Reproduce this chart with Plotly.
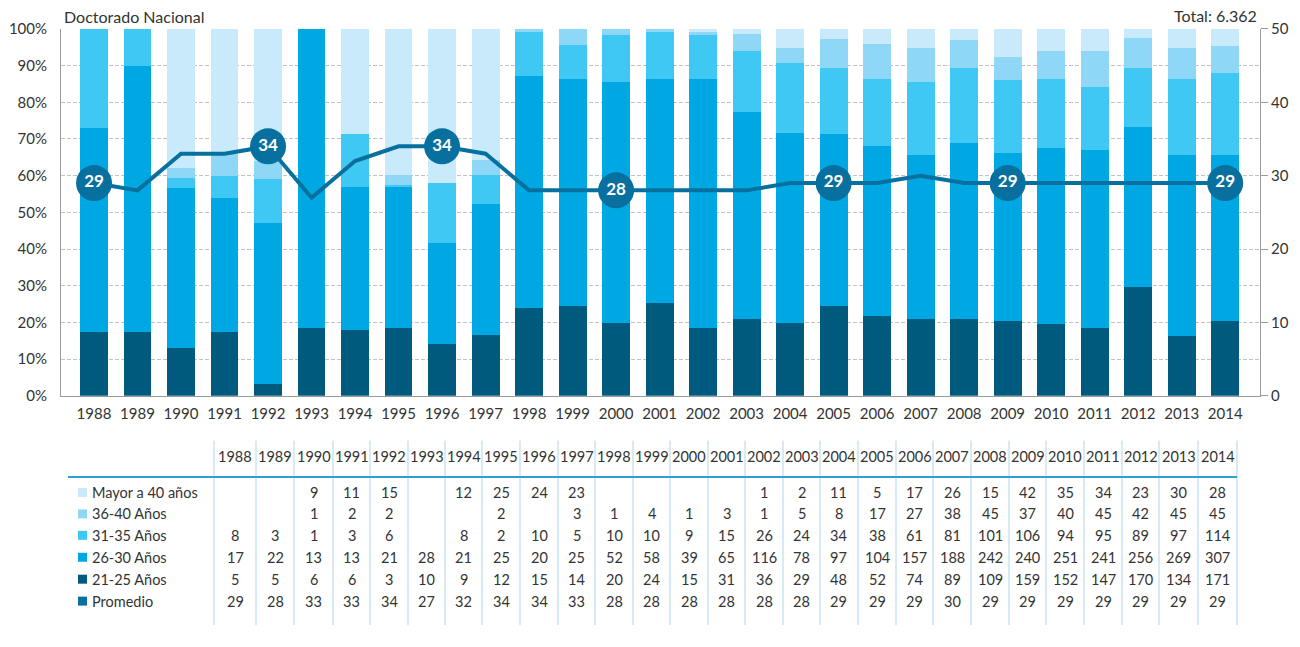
import plotly.graph_objects as go

W, H = 1300, 647
Y_OFF = 8       # observed vertical offset of the page capture
Y_SPAN = 631    # observed vertical span of the figure in the capture
FONT = "Lato"
TXT = "#333333"

years = list(range(1988, 2015))

# Bar segment shares (%) as drawn in the chart
pct_21_25 = [17.5, 17.5, 13.1, 17.5, 3.2, 18.6, 18.0, 18.6, 14.2, 16.7, 23.9, 24.5, 19.9, 25.2,
             18.6, 20.9, 19.9, 24.4, 21.7, 20.9, 20.9, 20.3, 19.5, 18.6, 29.8, 16.4, 20.3]
pct_26_30 = [55.6, 72.5, 43.5, 36.3, 43.8, 81.4, 39.0, 38.4, 27.6, 35.6, 63.4, 61.9, 65.7, 61.2,
             67.8, 56.6, 51.8, 46.9, 46.5, 44.8, 48.0, 45.9, 48.0, 48.3, 43.6, 49.3, 45.4]
pct_31_35 = [26.9, 10.0, 2.9, 6.2, 12.1, 0, 14.3, 0.5, 16.3, 7.8, 11.8, 9.3, 12.9, 12.8,
             12.1, 16.6, 19.1, 18.0, 18.2, 19.9, 20.4, 19.9, 18.9, 17.2, 15.9, 20.7, 22.4]
pct_36_40 = [0, 0, 2.7, 5.9, 4.8, 0, 0, 2.6, 0, 4.1, 0.9, 4.3, 1.5, 0.8,
             0.7, 4.6, 3.9, 8.1, 9.5, 9.1, 7.8, 6.4, 7.7, 10.0, 8.3, 8.3, 7.4]
pct_40plus = [0, 0, 37.8, 34.1, 36.1, 0, 28.7, 39.9, 41.9, 35.8, 0, 0, 0, 0,
              0.8, 1.3, 5.3, 2.6, 4.1, 5.3, 2.9, 7.5, 5.9, 5.9, 2.4, 5.3, 4.5]

promedio = [29, 28, 33, 33, 34, 27, 32, 34, 34, 33, 28, 28, 28, 28, 28, 28, 29, 29, 29, 30,
            29, 29, 29, 29, 29, 29, 29]
label_years = [1988, 1992, 1996, 2000, 2005, 2009, 2014]

# Table counts
n_40plus = [None, None, 9, 11, 15, None, 12, 25, 24, 23, None, None, None, None, 1, 2, 11, 5,
            17, 26, 15, 42, 35, 34, 23, 30, 28]
n_36_40 = [None, None, 1, 2, 2, None, None, 2, None, 3, 1, 4, 1, 3, 1, 5, 8, 17, 27, 38, 45,
           37, 40, 45, 42, 45, 45]
n_31_35 = [8, 3, 1, 3, 6, None, 8, 2, 10, 5, 10, 10, 9, 15, 26, 24, 34, 38, 61, 81, 101, 106,
           94, 95, 89, 97, 114]
n_26_30 = [17, 22, 13, 13, 21, 28, 21, 25, 20, 25, 52, 58, 39, 65, 116, 78, 97, 104, 157, 188,
           242, 240, 251, 241, 256, 269, 307]
n_21_25 = [5, 5, 6, 6, 3, 10, 9, 12, 15, 14, 20, 24, 15, 31, 36, 29, 48, 52, 74, 89, 109, 159,
           152, 147, 170, 134, 171]

y_ticks_left = [0, 10, 20, 30, 40, 50, 60, 70, 80, 90, 100]
y_ticks_right = [0, 10, 20, 30, 40, 50]

title_text = "Doctorado Nacional"
total_text = "Total: 6.362"

C_21 = "#005a7d"
C_26 = "#00a8e3"
C_31 = "#40c8f4"
C_36 = "#8fd7f6"
C_40 = "#c8eafb"
C_PROM = "#08709e"


def px_x(p):
    return p / W


def px_y(p):
    return 1 - (p - Y_OFF) / Y_SPAN


fig = go.Figure()

series = [
    ("21-25 Años", pct_21_25, C_21),
    ("26-30 Años", pct_26_30, C_26),
    ("31-35 Años", pct_31_35, C_31),
    ("36-40 Años", pct_36_40, C_36),
    ("Mayor a 40 años", pct_40plus, C_40),
]
for name, vals, col in series:
    fig.add_trace(go.Bar(x=years, y=vals, name=name, marker=dict(color=col, line=dict(width=0)),
                         width=0.64, showlegend=False))

fig.add_trace(go.Scatter(x=years, y=promedio, yaxis="y2", mode="lines",
                         line=dict(color=C_PROM, width=4), showlegend=False))

lx = [y for y in years if y in label_years]
ly = [promedio[years.index(y)] for y in lx]
fig.add_trace(go.Scatter(x=lx, y=ly, yaxis="y2", mode="markers+text",
                         marker=dict(size=36, color=C_PROM),
                         text=[str(v) for v in ly], textposition="middle center",
                         textfont=dict(family=FONT, size=17, color="white", weight="bold"),
                         showlegend=False))

xdom = [px_x(61), px_x(1260)]
ydom = [px_y(395), px_y(27)]

fig.update_layout(
    width=W, height=H, margin=dict(l=0, r=0, t=0, b=0),
    paper_bgcolor="white", plot_bgcolor="white",
    barmode="stack", bargap=0,
    font=dict(family=FONT, size=15, color=TXT),
    xaxis=dict(domain=xdom, range=[1988 - 0.759, 2014 + 0.80], tickvals=years,
               ticktext=[str(y) for y in years], showgrid=False, showline=True,
               linecolor="#9a9a9a", linewidth=1, ticks="", ticklabelstandoff=4,
               tickfont=dict(family=FONT, size=15, color=TXT), zeroline=False),
    yaxis=dict(domain=ydom, range=[0, 100], tickvals=y_ticks_left,
               ticktext=[f"{v}%" for v in y_ticks_left], showgrid=True,
               gridcolor="#c2c2c2", griddash="4px,2px", gridwidth=1, showline=True,
               linecolor="#9a9a9a", linewidth=1, ticks="", ticklabelstandoff=10,
               tickfont=dict(family=FONT, size=15, color=TXT), zeroline=False),
    yaxis2=dict(overlaying="y", side="right", range=[0, 50], tickvals=y_ticks_right,
                showgrid=False, showline=True, linecolor="#9a9a9a", linewidth=1,
                ticks="outside", ticklen=7, tickcolor="#9a9a9a",
                tickfont=dict(family=FONT, size=15, color=TXT), zeroline=False),
)

ann = []
ann.append(dict(text=title_text, x=px_x(62), y=px_y(15), xref="paper", yref="paper",
                xanchor="left", yanchor="middle", showarrow=False,
                font=dict(family=FONT, size=16, color=TXT)))
ann.append(dict(text=total_text, x=px_x(1259), y=px_y(14), xref="paper", yref="paper",
                xanchor="right", yanchor="middle", showarrow=False,
                font=dict(family=FONT, size=16, color=TXT)))

# Table layout
col_edges = [214, 256, 294, 333, 370, 408, 445, 482, 520, 558, 595, 633, 670, 708, 745, 783,
             820, 858, 896, 933, 971, 1009, 1046, 1084, 1122, 1159, 1198, 1237]
col_centers = [(col_edges[i] + col_edges[i + 1]) / 2 for i in range(len(years))]
header_y = 456
row_ys = [492, 513.5, 535, 557, 579, 601]

shapes = []
for e in col_edges:
    shapes.append(dict(type="line", xref="paper", yref="paper", x0=px_x(e), x1=px_x(e),
                       y0=px_y(440), y1=px_y(625), line=dict(color="#aed6ef", width=1)))
shapes.append(dict(type="line", xref="paper", yref="paper", x0=px_x(68), x1=px_x(1237),
                   y0=px_y(476.5), y1=px_y(476.5), line=dict(color="#2f9cd2", width=2)))

for i, yr in enumerate(years):
    ann.append(dict(text=str(yr), x=px_x(col_centers[i]), y=px_y(header_y), xref="paper",
                    yref="paper", xanchor="center", yanchor="middle", showarrow=False,
                    font=dict(family=FONT, size=14.5, color=TXT)))

rows = [
    ("Mayor a 40 años", n_40plus, C_40),
    ("36-40 Años", n_36_40, C_36),
    ("31-35 Años", n_31_35, C_31),
    ("26-30 Años", n_26_30, C_26),
    ("21-25 Años", n_21_25, C_21),
    ("Promedio", promedio, C_PROM),
]
for (label, vals, col), ry in zip(rows, row_ys):
    shapes.append(dict(type="rect", xref="paper", yref="paper", x0=px_x(78), x1=px_x(87),
                       y0=px_y(ry + 4.5), y1=px_y(ry - 4.5), fillcolor=col,
                       line=dict(width=0)))
    ann.append(dict(text=label, x=px_x(90), y=px_y(ry), xref="paper", yref="paper",
                    xanchor="left", yanchor="middle", showarrow=False,
                    font=dict(family=FONT, size=14.5, color=TXT)))
    for i, v in enumerate(vals):
        if v is None:
            continue
        ann.append(dict(text=str(v), x=px_x(col_centers[i]), y=px_y(ry), xref="paper",
                        yref="paper", xanchor="center", yanchor="middle", showarrow=False,
                        font=dict(family=FONT, size=14.5, color=TXT)))

fig.update_layout(annotations=ann, shapes=shapes)

fig.write_html("out.html", config={"displayModeBar": False},
               post_script="document.body.style.margin='0';document.body.style.overflow='hidden';")
